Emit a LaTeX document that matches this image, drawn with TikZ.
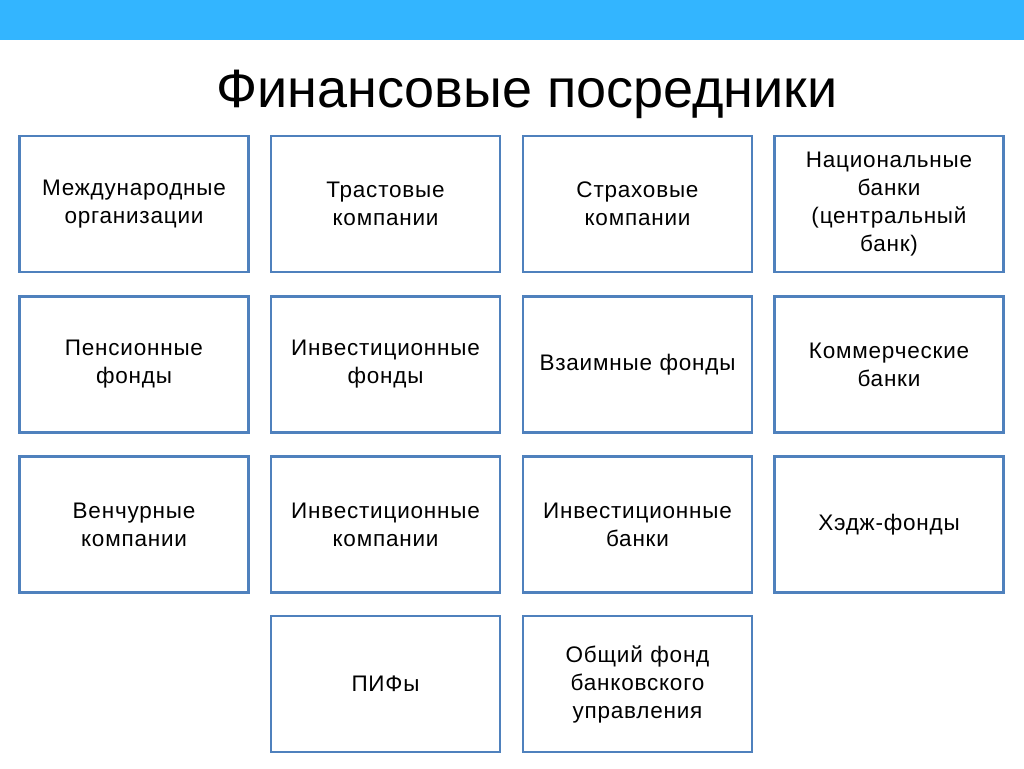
\documentclass[tikz,border=0pt]{standalone}
\usepackage{fontspec}
\setmainfont{Liberation Sans}
\newfontfamily\boxfont[LetterSpace=3.5]{Liberation Sans}
\usetikzlibrary{positioning}
\definecolor{barblue}{RGB}{51,181,255}
\definecolor{boxblue}{RGB}{79,129,189}
\tikzstyle{fpnode} = [rectangle,
minimum width=228pt,
minimum height=136pt,
text centered,
text width=222pt,
draw=boxblue,
line width=2.5pt,
fill=white,
font=\boxfont\fontsize{22.5}{28}\selectfont]
\tikzstyle{fptitle} = [font=\fontsize{54}{64}\selectfont]

\begin{document}
\begin{tikzpicture}[x=1pt, y=1pt]
    \useasboundingbox (0,0) rectangle (1024,-768);
    \fill [barblue] (0,0) rectangle (1024,-40);

    \node (title) [fptitle, xshift=527pt, yshift=-94pt] {Финансовые посредники};

    % Row 1
    \node (intorg) [fpnode, xshift=134pt, yshift=-204pt] {Международные\\организации};
    \node (trust) [fpnode, xshift=385.5pt, yshift=-204pt] {Трастовые\\компании};
    \node (insur) [fpnode, xshift=637.5pt, yshift=-204pt] {Страховые\\компании};
    \node (natbank) [fpnode, xshift=889pt, yshift=-204pt] {Национальные\\банки\\(центральный\\банк)};

    % Row 2
    \node (pension) [fpnode, xshift=134pt, yshift=-364.5pt] {Пенсионные\\фонды};
    \node (invfund) [fpnode, xshift=385.5pt, yshift=-364.5pt] {Инвестиционные\\фонды};
    \node (mutual) [fpnode, xshift=637.5pt, yshift=-364.5pt] {Взаимные фонды};
    \node (combank) [fpnode, xshift=889pt, yshift=-364.5pt] {Коммерческие\\банки};

    % Row 3
    \node (venture) [fpnode, xshift=134pt, yshift=-524.5pt] {Венчурные\\компании};
    \node (invcomp) [fpnode, xshift=385.5pt, yshift=-524.5pt] {Инвестиционные\\компании};
    \node (invbank) [fpnode, xshift=637.5pt, yshift=-524.5pt] {Инвестиционные\\банки};
    \node (hedge) [fpnode, xshift=889pt, yshift=-524.5pt] {Хэдж-фонды};

    % Row 4
    \node (pif) [fpnode, xshift=385.5pt, yshift=-684pt] {ПИФы};
    \node (ofbu) [fpnode, xshift=637.5pt, yshift=-684pt] {Общий фонд\\банковского\\управления};
\end{tikzpicture}
\end{document}
